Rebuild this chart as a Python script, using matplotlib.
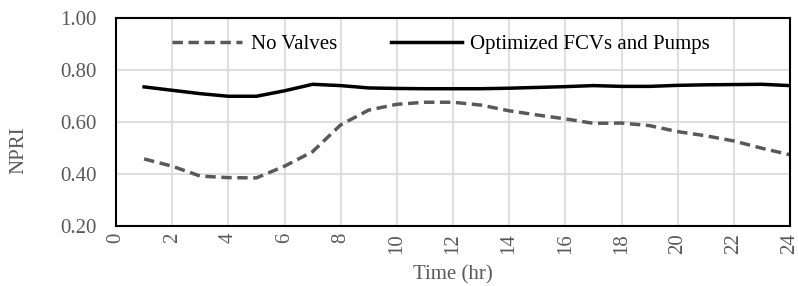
import matplotlib
matplotlib.use("Agg")
import matplotlib.pyplot as plt
from matplotlib.ticker import MultipleLocator, FormatStrFormatter

hours = list(range(1, 25))
no_valves = [0.458, 0.430, 0.392, 0.386, 0.385, 0.430, 0.486, 0.589, 0.646, 0.668,
             0.676, 0.676, 0.665, 0.643, 0.627, 0.612, 0.595, 0.596, 0.586, 0.563,
             0.547, 0.527, 0.499, 0.474]
optimized = [0.735, 0.722, 0.709, 0.699, 0.699, 0.720, 0.745, 0.740, 0.731, 0.729,
             0.728, 0.728, 0.728, 0.730, 0.733, 0.736, 0.740, 0.737, 0.737, 0.741,
             0.743, 0.744, 0.745, 0.740]
series_names = ["No Valves", "Optimized FCVs and Pumps"]

plt.rcParams['font.family'] = ['Liberation Serif', 'DejaVu Serif']
gray = '#595959'
fs = 15

fig = plt.figure(figsize=(7.98, 2.86), dpi=100)
ax = fig.add_axes([116/798, 60/286, (790-116)/798, (226-18)/286])

ax.plot(hours, no_valves, color=gray, lw=2.5, ls=(0, (3, 1.6)), label=series_names[0])
ax.plot(hours, optimized, color='black', lw=2.5, label=series_names[1])

ax.set_xlim(0, 24)
ax.set_ylim(0.2, 1.0)
ax.xaxis.set_major_locator(MultipleLocator(2))
ax.yaxis.set_major_locator(MultipleLocator(0.2))
ax.yaxis.set_major_formatter(FormatStrFormatter('%.2f'))
ax.grid(True, color='#d9d9d9', lw=1.2)
ax.set_axisbelow(True)
for s in ax.spines.values():
    s.set_color('black')
    s.set_linewidth(1.5)
ax.tick_params(length=0, colors=gray, labelsize=fs)
ax.tick_params(axis='x', labelrotation=90, pad=5)
ax.tick_params(axis='y', pad=14)
ax.set_xlabel('Time (hr)', color=gray, fontsize=fs, labelpad=8)
ax.set_ylabel('NPRI', color=gray, fontsize=fs)
ax.yaxis.set_label_coords(-0.13, 0.365)

leg = ax.legend(loc='upper center', ncol=2, frameon=False, fontsize=fs,
                handlelength=3.4, columnspacing=2.6, handletextpad=0.4,
                bbox_to_anchor=(0.482, 1.01))
fig.savefig('out.png', dpi=100)
